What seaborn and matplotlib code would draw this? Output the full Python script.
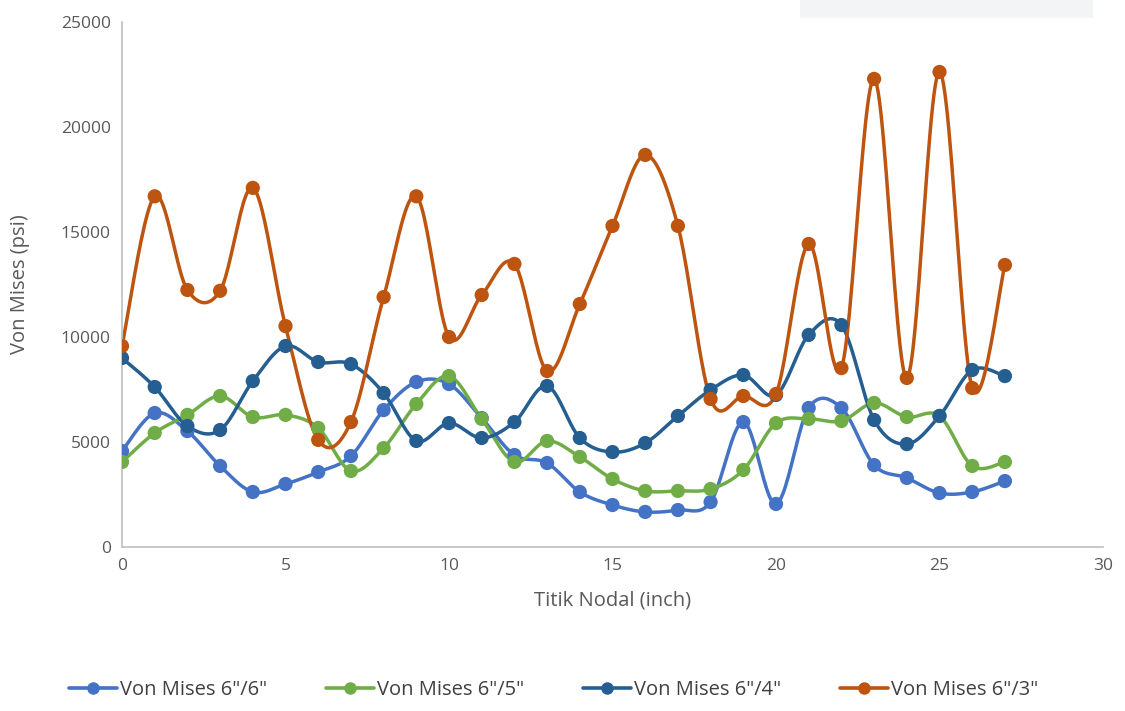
import numpy as np
import pandas as pd
import matplotlib
matplotlib.use("Agg")
import matplotlib.pyplot as plt
from matplotlib.lines import Line2D
from matplotlib.patches import Rectangle
import seaborn as sns

# Nodal points along the member (inch)
nodes = list(range(28))

# Von Mises stress (psi) for each spacing configuration
vm_6_6 = [4570, 6380, 5520, 3860, 2620, 3000, 3570, 4330, 6520, 7860,
          7760, 6140, 4380, 4000, 2620, 2000, 1670, 1760, 2140, 5950,
          2050, 6620, 6620, 3900, 3290, 2570, 2620, 3140]
vm_6_5 = [4050, 5430, 6290, 7190, 6190, 6290, 5670, 3620, 4710, 6810,
          8140, 6100, 4050, 5050, 4290, 3240, 2670, 2670, 2760, 3670,
          5900, 6100, 6000, 6860, 6190, 6240, 3860, 4050]
vm_6_4 = [9000, 7620, 5760, 5570, 7900, 9570, 8810, 8710, 7330, 5050,
          5900, 5190, 5950, 7670, 5190, 4520, 4950, 6240, 7480, 8190,
          7240, 10100, 10570, 6050, 4900, 6240, 8430, 8140]
vm_6_3 = [9570, 16700, 12240, 12200, 17100, 10520, 5100, 5950, 11900, 16700,
          10000, 12000, 13480, 8380, 11570, 15290, 18670, 15290, 7050, 7190,
          7290, 14430, 8520, 22290, 8050, 22620, 7570, 13430]

series_names = ['Von Mises 6"/6"', 'Von Mises 6"/5"', 'Von Mises 6"/4"', 'Von Mises 6"/3"']
series_values = [vm_6_6, vm_6_5, vm_6_4, vm_6_3]
colors = ["#4472C4", "#70AD47", "#255E91", "#BD540F"]

x_ticks = [0, 5, 10, 15, 20, 25, 30]
y_ticks = [0, 5000, 10000, 15000, 20000, 25000]


def smooth_curve(x, y, steps=24):
    """Cardinal (Catmull-Rom) Bezier smoothing, like a spreadsheet's smoothed line."""
    p = np.column_stack([np.asarray(x, float), np.asarray(y, float)])
    n = len(p)
    out = []
    for i in range(n - 1):
        p0 = p[i - 1] if i > 0 else p[i]
        p3 = p[i + 2] if i + 2 < n else p[i + 1]
        c1 = p[i] + (p[i + 1] - p0) / 6.0
        c2 = p[i + 1] - (p3 - p[i]) / 6.0
        t = np.linspace(0, 1, steps, endpoint=(i == n - 2))[:, None]
        seg = ((1 - t) ** 3) * p[i] + 3 * ((1 - t) ** 2) * t * c1 \
            + 3 * (1 - t) * t ** 2 * c2 + t ** 3 * p[i + 1]
        out.append(seg)
    out = np.vstack(out)
    return out[:, 0], out[:, 1]


points = pd.concat(
    [pd.DataFrame({"node": nodes, "stress": vals, "series": name})
     for name, vals in zip(series_names, series_values)],
    ignore_index=True)

curve_frames = []
for name, vals in zip(series_names, series_values):
    cx, cy = smooth_curve(nodes, vals)
    curve_frames.append(pd.DataFrame({"t": np.arange(len(cx)), "node": cx,
                                      "stress": cy, "series": name}))
curves = pd.concat(curve_frames, ignore_index=True)

sns.set_theme(style="white")
plt.rcParams["font.family"] = ["Open Sans", "DejaVu Sans"]

fig = plt.figure(figsize=(11.25, 7.11), dpi=100)
ax = fig.add_axes([122 / 1125, 1 - 547 / 711, (1103 - 122) / 1125, (547 - 22) / 711])

palette = dict(zip(series_names, colors))
for name in series_names:
    sub = curves[curves["series"] == name]
    sns.lineplot(data=sub, x="node", y="stress", sort=False, estimator=None,
                 color=palette[name], linewidth=2.5, ax=ax, legend=False)
sns.scatterplot(data=points, x="node", y="stress", hue="series", palette=palette,
                s=105, edgecolor="none", ax=ax, legend=False, zorder=5)

ax.set_xlim(0, 30)
ax.set_ylim(0, 25000)
ax.set_xticks(x_ticks)
ax.set_yticks(y_ticks)
ax.tick_params(axis="both", colors="#595959", labelsize=12.5, length=0, pad=8)
ax.set_xlabel("Titik Nodal (inch)", fontsize=14.5, color="#595959", labelpad=12)
ax.set_ylabel("Von Mises (psi)", fontsize=14.5, color="#595959", labelpad=22)
for side in ["top", "right"]:
    ax.spines[side].set_visible(False)
for side in ["left", "bottom"]:
    ax.spines[side].set_color("#BFBFBF")
    ax.spines[side].set_linewidth(1.2)
ax.set_facecolor("white")

handles = [Line2D([0], [0], color=c, linewidth=2.6, marker="o", markersize=9,
                  markeredgewidth=0) for c in colors]
leg = fig.legend(handles, series_names, loc="center", ncol=4,
                 bbox_to_anchor=(0.492, 1 - 690 / 711), frameon=False,
                 prop={"family": "Open Sans", "size": 14.5},
                 handlelength=2.4, columnspacing=2.9, handletextpad=0.15)
for txt in leg.get_texts():
    txt.set_color("#404040")

# faint panel strip at the top right
fig.patches.append(Rectangle((800 / 1125, 1 - 18 / 711), 293 / 1125, 18 / 711,
                             transform=fig.transFigure, facecolor="#F3F4F6",
                             edgecolor="none", zorder=0))

fig.savefig("out.png", dpi=100, facecolor="white")
